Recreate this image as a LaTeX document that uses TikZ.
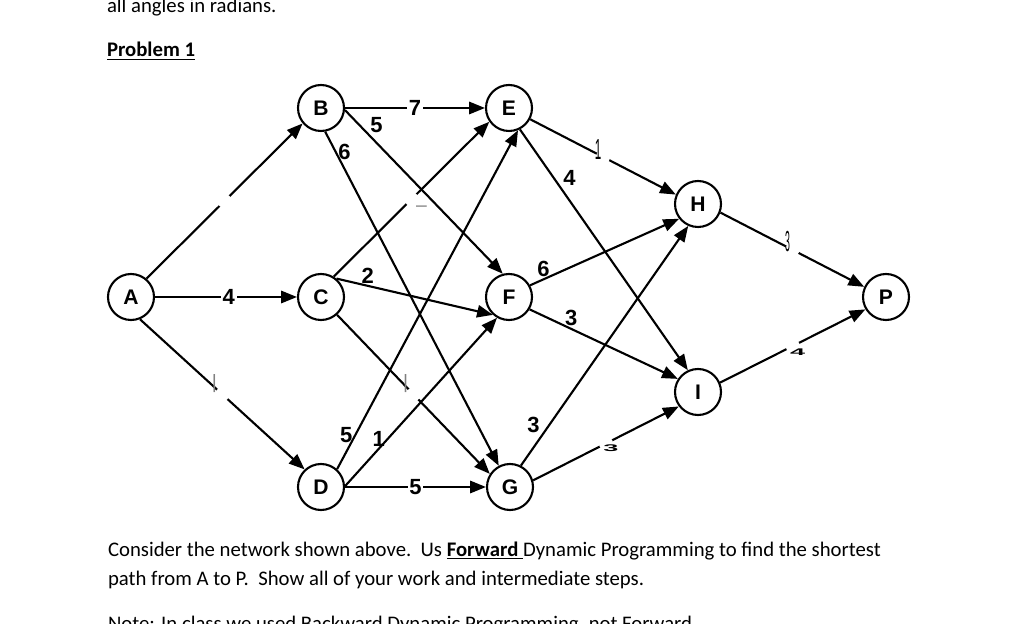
\documentclass[tikz,border=0pt]{standalone}
\usepackage{fontspec}
\setmainfont{Carlito}
\newfontfamily\arialfont{Liberation Sans}
\usetikzlibrary{arrows.meta}

\tikzset{
  stage/.style={circle, draw, minimum size=0.92cm, inner sep=0pt, font=\arialfont\bfseries\fontsize{12}{14}\selectfont},
  wt/.style={font=\arialfont\bfseries\fontsize{12.5}{14}\selectfont, inner sep=1pt},
  inwt/.style={wt, fill=white},
  hole/.style={circle, fill=white, inner sep=0pt, minimum size=8pt},
  scrawl/.style={font=\arialfont\fontsize{11}{12}\selectfont, inner sep=0pt},
  txt/.style={anchor=base west, inner sep=0pt, font=\fontsize{11.8}{16}\selectfont}
}

\begin{document}
\begin{tikzpicture}[x=0.02cm, y=-0.02cm, >={Triangle[length=9pt,width=7pt]}, line width=1.2pt]
\useasboundingbox (0,0) rectangle (1024,624);

% page text
\node[txt] (head) at (106,13) {all angles in radians.};
\node[txt] (prob) at (106,57) {\underline{\textbf{Problem 1}}};
\node[txt] (task1) at (107,556) {Consider the network shown above.\ \ Us \underline{\textbf{Forward} }Dynamic Programming to find the shortest};
\node[txt] (task2) at (107,585) {path from A to P.\ \ Show all of your work and intermediate steps.};
\node[txt] (note) at (107,630) {Note: In class we used Backward Dynamic Programming, not Forward.};

% stages
\foreach \n/\x/\y in {A/131/297, B/321/108, C/321/297, D/321/487, E/509/108,
                      F/509/297, G/510/487, H/698/204, I/698/392, P/886/297}
  \node[stage] (\n) at (\x,\y) {\n};

% from A
\draw[->] (A.50) -- node[hole] {} (B.220);
\draw[->] (A) -- node[inwt, pos=.52] {4} (C);
\draw[->] (A.-68) -- node[hole] {} node[scrawl, xshift=-4.5pt, yshift=6pt] {\textcolor{gray}{|}} (D.133);

% from B
\draw[->] (B) -- node[inwt] {7} (E);
\draw[->] (B.-5) -- node[wt, pos=.2, above=4pt] {5} (F.105);
\draw[->] (B.-80) -- node[wt, pos=.06, right] {6} (G.118);

% from C
\draw[->] (C.58) -- node[hole] {} node[scrawl, xshift=5.7pt, yshift=-5.7pt] {\textcolor{gray}{–}} (E.215);
\draw[->] (C.50) -- node[wt, pos=.2, above] {2} (F.228);
\draw[->] (C.-48) -- node[hole] {} node[scrawl, xshift=-4.5pt, yshift=6pt] {\textcolor{gray}{|}} (G.147);

% from D
\draw[->] (D.48) -- node[wt, pos=.1, left] {5} (E.-68);
\draw[->] (D.2) -- node[wt, pos=.28, left] {1} (F.240);
\draw[->] (D) -- node[inwt] {5} (G);

% into H and I
\draw[->] (E.-28) -- node[hole] {} node[scrawl, xshift=-2.8pt, yshift=4pt] {\scalebox{.6}[1.5]{1}} (H.157);
\draw[->] (E.-63) -- node[wt, pos=.2, right=4pt] {4} (I.115);
\draw[->] (F.29) -- node[wt, pos=.09, above] {6} (H.218);
\draw[->] (F.-31) -- node[wt, pos=.28, above] {3} (I.147);
\draw[->] (G.63) -- node[wt, pos=.17, left=4pt] {3} (H.246);
\draw[->] (G.16) -- node[hole] {} node[scrawl, xshift=2.8pt, yshift=-2.8pt] {\scalebox{1.4}[.5]{\bfseries 3}} (I.217);

% into P
\draw[->] (H.-21) -- node[hole] {} node[scrawl, xshift=-2.8pt, yshift=4.5pt] {\scalebox{.45}[1.5]{3}} (P.155);
\draw[->] (I.23) -- node[hole] {} node[scrawl, xshift=2.8pt, yshift=-3.4pt] {\scalebox{1.4}[.5]{\bfseries 4}} (P.211);
\end{tikzpicture}
\end{document}
